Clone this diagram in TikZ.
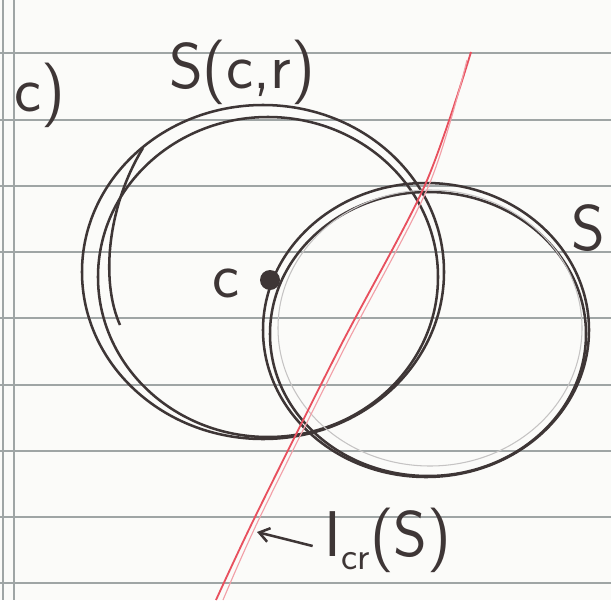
\documentclass[tikz,border=0pt]{standalone}
\usepackage{tikz}
\usetikzlibrary{arrows.meta, positioning, calc}
\definecolor{pen}{HTML}{3E3636}
\definecolor{redpen}{HTML}{E8505E}
\definecolor{rule}{HTML}{9FA5A5}
\definecolor{paper}{HTML}{FBFBF9}
\tikzset{
  hand/.style={font=\fontsize{92}{92}\selectfont\sffamily, text=pen, inner sep=0pt},
  stroke/.style={draw=pen, line width=3.6pt},
  faint/.style={draw=pen!30, line width=1.5pt},
  ruleline/.style={draw=rule, line width=2.4pt},
  redline/.style={draw=redpen, line width=2.6pt}
}
\begin{document}
\begin{tikzpicture}[x=0.05cm,y=-0.05cm]
  \fill[paper] (0,0) rectangle (611,600);
  \useasboundingbox (0,0) rectangle (611,600);
  \foreach \yy in {53,120,186,252,318,385,451,517,583}
    \draw[ruleline] (0,\yy) -- (611,\yy);
  \draw[ruleline] (3,0) -- (3,600);
  \draw[ruleline] (14,0) -- (14,600);

  \draw[stroke] (263,272) ellipse [x radius=181, y radius=167];
  \draw[stroke] (268,277) ellipse [x radius=170, y radius=160];
  \draw[stroke] (143,148) .. controls (108,205) and (100,280) .. (120,325);

  \draw[stroke] (426,330) ellipse [x radius=163, y radius=147];
  \draw[stroke] (428,334) ellipse [x radius=158, y radius=142];
  \draw[faint] (430,328) ellipse [x radius=152, y radius=138];

  \draw[redline] plot[smooth] coordinates {(471,52) (425,185) (340,347) (255,517) (216,600)};
  \draw[redline, redpen!55, line width=1.6pt] plot[smooth] coordinates {(467,60) (429,185) (345,347) (260,517) (223,600)};

  \fill[pen] (270,280) circle [radius=10];
  \node[hand] (cpart) at (40,95) {c)};
  \node[hand] (scr) at (242,72) {S(c,r)};
  \node[hand] (s) at (588,228) {S};
  \node[hand] (c) at (226,283) {c};
  \node[hand] (icr) at (388,540) {I{\fontsize{55}{55}\selectfont\raisebox{-0.35em}{cr}}(S)};
  \coordinate (tip) at (257,532);
  \draw[stroke, -{Straight Barb[length=5mm, width=7mm]}] (icr.west) ++(-12,6) -- (tip);
\end{tikzpicture}
\end{document}
